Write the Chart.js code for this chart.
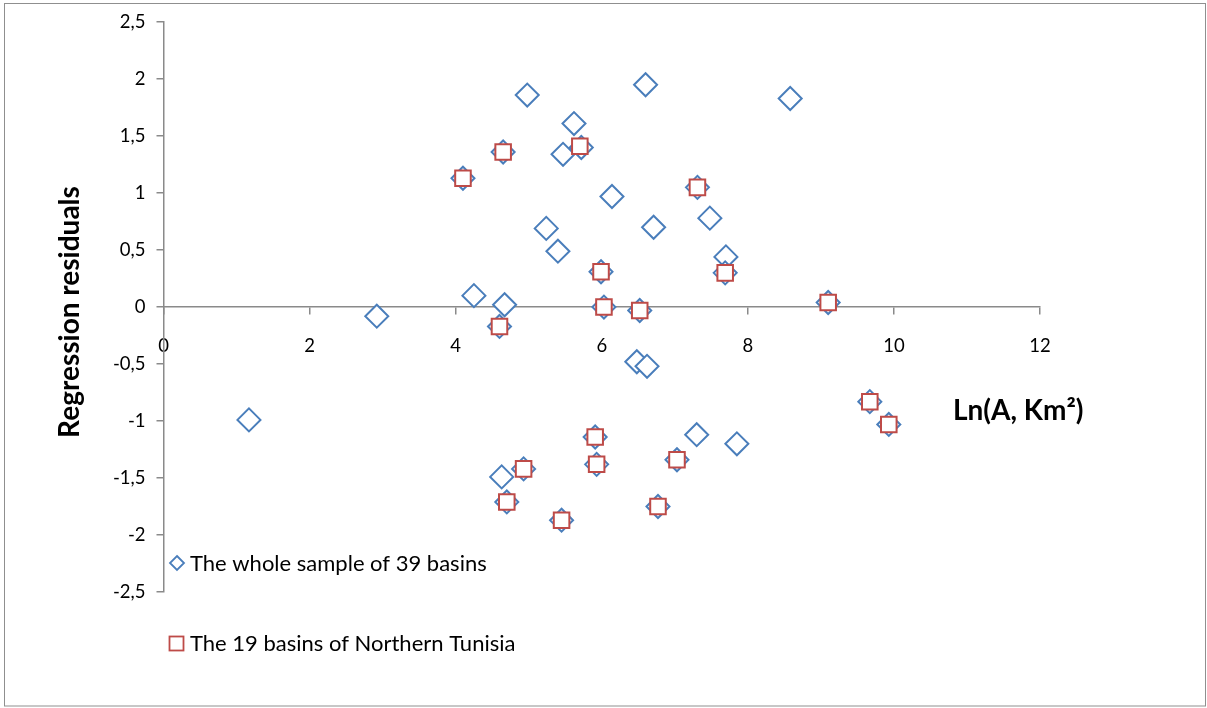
<!DOCTYPE html>
<html>
<head>
<meta charset="utf-8">
<script src="https://cdn.jsdelivr.net/npm/chart.js@4.4.1/dist/chart.umd.min.js"></script>
<style>
  html, body { margin: 0; padding: 0; background: #fff; overflow: hidden; }
  #wrap { position: relative; width: 1207px; height: 708px; }
</style>
</head>
<body>
<div id="wrap"><canvas id="chart" width="1207" height="708"></canvas></div>
<script>
// Axis ticks
const xTicks = [0, 2, 4, 6, 8, 10, 12];
const yTicks = [-2.5, -2, -1.5, -1, -0.5, 0, 0.5, 1, 1.5, 2, 2.5];

// Whole sample (39 basins): ln(area) and regression residual
const allLnA = [
  4.98, 6.60, 8.58, 5.62, 4.65, 5.47, 5.72, 6.14, 7.31, 7.48,
  5.24, 6.71, 5.40, 7.70, 5.99, 7.69, 4.67, 6.03, 6.52, 9.10,
  4.60, 4.10, 4.25, 2.92, 1.17, 6.48, 6.62, 9.67, 9.93, 5.91,
  5.93, 7.30, 7.85, 7.03, 4.63, 4.93, 4.70, 5.45, 6.77
];
const allResid = [
  1.86, 1.95, 1.83, 1.61, 1.36, 1.34, 1.40, 0.97, 1.05, 0.78,
  0.69, 0.70, 0.49, 0.44, 0.31, 0.30, 0.02, 0.00, -0.03, 0.04,
  -0.17, 1.13, 0.10, -0.08, -0.99, -0.48, -0.52, -0.83, -1.03, -1.14,
  -1.38, -1.12, -1.20, -1.34, -1.49, -1.42, -1.71, -1.87, -1.75
];

// Northern Tunisia subset (19 basins)
const northLnA = [
  4.65, 5.70, 7.31, 5.99, 7.69, 6.03, 6.52, 9.10, 4.60, 4.10,
  9.67, 9.93, 5.91, 5.93, 7.03, 4.93, 4.70, 5.45, 6.77
];
const northResid = [
  1.36, 1.41, 1.05, 0.31, 0.30, 0.00, -0.03, 0.04, -0.17, 1.13,
  -0.83, -1.03, -1.14, -1.38, -1.34, -1.42, -1.71, -1.87, -1.75
];

const seriesNames = ['The whole sample of 39 basins', 'The 19 basins of Northern Tunisia'];
const xTitle = 'Ln(A, Km\u00B2)';
const yTitle = 'Regression residuals';

const BLUE = '#4a7ebb';
const RED = '#be4b48';
const AXIS = '#8a8a8a';
const FONT = 'Lato';

const toPoints = (xs, ys) => xs.map((x, i) => ({ x: x, y: ys[i] }));
const decimalComma = v => String(v).replace('.', ',');

// Frame, axis titles and legend drawn on top of the plot
const decorations = {
  id: 'decorations',
  afterDraw(chart) {
    const ctx = chart.ctx;
    ctx.save();

    ctx.strokeStyle = '#8f8f8f';
    ctx.lineWidth = 1;
    ctx.strokeRect(4.5, 3.5, 1201, 702.5);

    ctx.fillStyle = '#000';
    ctx.font = 'bold 28px ' + FONT;
    ctx.textBaseline = 'alphabetic';
    ctx.textAlign = 'left';
    ctx.fillText(xTitle, 953, 420);

    ctx.save();
    ctx.translate(79, 312);
    ctx.rotate(-Math.PI / 2);
    ctx.textAlign = 'center';
    ctx.fillText(yTitle, 0, 0);
    ctx.restore();

    // legend entries
    ctx.font = '22px ' + FONT;
    ctx.textAlign = 'left';
    ctx.textBaseline = 'middle';
    ctx.lineWidth = 1.8;

    ctx.strokeStyle = BLUE;
    ctx.beginPath();
    ctx.moveTo(177, 556); ctx.lineTo(184, 563); ctx.lineTo(177, 570); ctx.lineTo(170, 563);
    ctx.closePath();
    ctx.stroke();
    ctx.fillText(seriesNames[0], 190, 564);

    ctx.strokeStyle = RED;
    ctx.strokeRect(169.5, 636.5, 14, 14);
    ctx.fillText(seriesNames[1], 190, 644);

    ctx.restore();
  }
};

new Chart(document.getElementById('chart'), {
  type: 'scatter',
  data: {
    datasets: [
      {
        label: seriesNames[0],
        data: toPoints(allLnA, allResid),
        pointStyle: 'rectRot',
        pointRadius: 11.5,
        pointHoverRadius: 11.5,
        borderColor: BLUE,
        backgroundColor: '#ffffff',
        borderWidth: 2,
        order: 2
      },
      {
        label: seriesNames[1],
        data: toPoints(northLnA, northResid),
        pointStyle: 'rect',
        pointRadius: 11,
        pointHoverRadius: 11,
        borderColor: RED,
        backgroundColor: '#ffffff',
        borderWidth: 2,
        order: 1
      }
    ]
  },
  options: {
    responsive: false,
    animation: false,
    devicePixelRatio: 1,
    events: [],
    layout: { padding: { left: 0, top: 15, right: 167, bottom: 116 } },
    plugins: {
      legend: { display: false },
      tooltip: { enabled: false }
    },
    scales: {
      x: {
        type: 'linear',
        position: { y: 0 },
        min: xTicks[0],
        max: xTicks[xTicks.length - 1],
        afterBuildTicks: s => { s.ticks = xTicks.map(v => ({ value: v })); },
        border: { display: true, color: AXIS, width: 1.5 },
        grid: { display: true, drawOnChartArea: false, drawTicks: true, tickLength: 7, color: AXIS, lineWidth: 1.5 },
        ticks: { color: '#000', font: { family: FONT, size: 18.5 }, padding: 21, maxRotation: 0, autoSkip: false,
                 callback: v => decimalComma(v) }
      },
      y: {
        type: 'linear',
        position: 'left',
        min: yTicks[0],
        max: yTicks[yTicks.length - 1],
        afterBuildTicks: s => { s.ticks = yTicks.map(v => ({ value: v })); },
        afterFit: s => { s.width = 163.5; },
        border: { display: true, color: AXIS, width: 1.5 },
        grid: { display: true, drawOnChartArea: false, drawTicks: true, tickLength: 7, color: AXIS, lineWidth: 1.5 },
        ticks: { color: '#000', font: { family: FONT, size: 18.5 }, padding: 11, autoSkip: false,
                 callback: v => decimalComma(v) }
      }
    }
  },
  plugins: [decorations]
});
</script>
</body>
</html>
